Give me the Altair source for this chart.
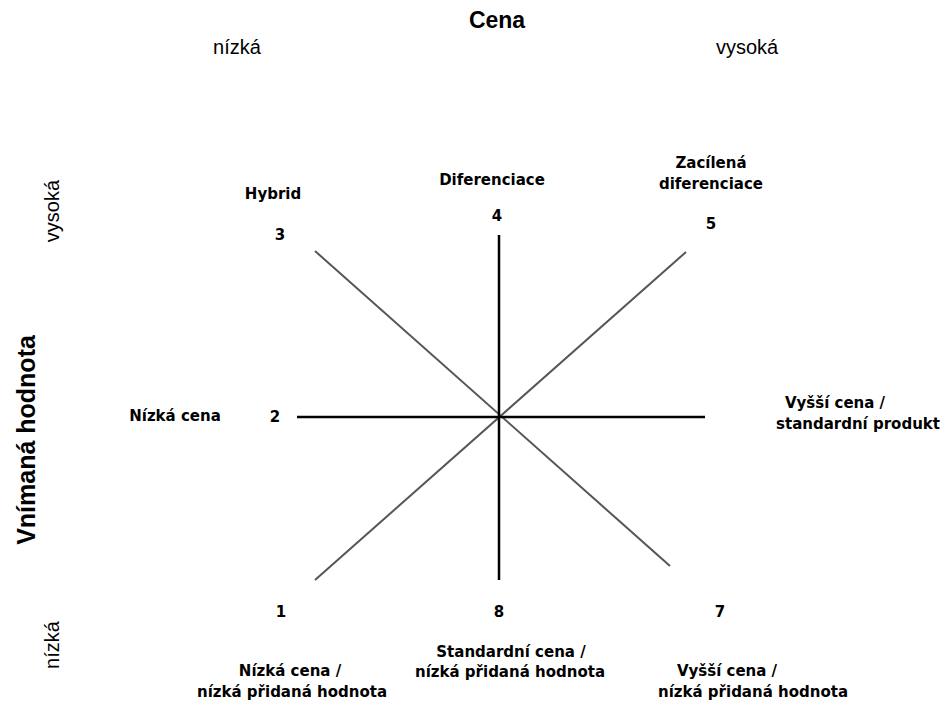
import altair as alt
import pandas as pd

# Strategy clock lines (endpoints, in image pixel coordinates)
line_x1 = [499, 297, 315, 686]
line_y1 = [235, 417, 251, 252]
line_x2 = [499, 705, 670, 315]
line_y2 = [580, 417, 566, 580]
line_kind = ["axis", "axis", "diag", "diag"]

# Clock position numbers
num_text = ["3", "4", "5", "2", "1", "8", "7"]
num_x = [280, 497, 711, 275, 281, 499, 720]
num_y = [235, 216, 224, 417, 612, 612, 612]

# Strategy labels (one row per text line)
lab_text = ["Hybrid", "Diferenciace", "Zacílená", "diferenciace",
            "Nízká cena", "Vyšší cena /", "standardní produkt",
            "Nízká cena /", "nízká přidaná hodnota",
            "Standardní cena /", "nízká přidaná hodnota",
            "Vyšší cena /", "nízká přidaná hodnota"]
lab_x = [273, 492, 711, 711, 175, 835, 858, 290, 292, 511, 510, 727, 753]
lab_y = [194, 180, 163, 184, 416, 403, 424, 671, 692, 652, 672, 671, 692]

# Axis captions
top_text = ["nízká", "vysoká"]
top_x = [237, 747]
top_y = [48, 48]
left_text = ["vysoká", "nízká"]
left_x = [53, 53]
left_y = [211, 645]

lines = pd.DataFrame({"x": line_x1, "y": line_y1, "x2": line_x2, "y2": line_y2, "kind": line_kind})
nums = pd.DataFrame({"t": num_text, "x": num_x, "y": num_y})
labs = pd.DataFrame({"t": lab_text, "x": lab_x, "y": lab_y})
tops = pd.DataFrame({"t": top_text, "x": top_x, "y": top_y})
lefts = pd.DataFrame({"t": left_text, "x": left_x, "y": left_y})
title_df = pd.DataFrame({"t": ["Cena"], "x": [497], "y": [21]})
ytitle_df = pd.DataFrame({"t": ["Vnímaná hodnota"], "x": [27], "y": [440]})

xs = alt.Scale(domain=[8, 942], nice=False, zero=False)
ys = alt.Scale(domain=[8, 704], nice=False, zero=False, reverse=True)
X = lambda f="x": alt.X(f"{f}:Q", scale=xs, axis=None)
Y = lambda f="y": alt.Y(f"{f}:Q", scale=ys, axis=None)

axis_lines = alt.Chart(lines).transform_filter(alt.datum.kind == "axis").mark_rule(
    color="#000000", strokeWidth=2.5
).encode(x=X(), y=Y(), x2="x2:Q", y2="y2:Q")

diag_lines = alt.Chart(lines).transform_filter(alt.datum.kind == "diag").mark_rule(
    color="#555555", strokeWidth=2
).encode(x=X(), y=Y(), x2="x2:Q", y2="y2:Q")

num_layer = alt.Chart(nums).mark_text(
    font="DejaVu Sans", fontWeight="bold", fontSize=15, color="#000000",
    align="center", baseline="middle"
).encode(x=X(), y=Y(), text="t:N")

lab_layer = alt.Chart(labs).mark_text(
    font="DejaVu Sans", fontWeight="bold", fontSize=15, color="#000000",
    align="center", baseline="middle"
).encode(x=X(), y=Y(), text="t:N")

top_layer = alt.Chart(tops).mark_text(
    font="Liberation Sans", fontSize=20, color="#000000",
    align="center", baseline="middle"
).encode(x=X(), y=Y(), text="t:N")

left_layer = alt.Chart(lefts).mark_text(
    font="Liberation Sans", fontSize=20, color="#000000",
    align="center", baseline="middle", angle=270
).encode(x=X(), y=Y(), text="t:N")

title_layer = alt.Chart(title_df).mark_text(
    font="Liberation Sans", fontWeight="bold", fontSize=23, color="#000000",
    align="center", baseline="middle"
).encode(x=X(), y=Y(), text="t:N")

ytitle_layer = alt.Chart(ytitle_df).mark_text(
    font="Liberation Sans", fontWeight="bold", fontSize=25, color="#000000",
    align="center", baseline="middle", angle=270
).encode(x=X(), y=Y(), text="t:N")

chart = alt.layer(
    diag_lines, axis_lines, num_layer, lab_layer, top_layer, left_layer,
    title_layer, ytitle_layer
).properties(
    width=934, height=696, autosize="none", padding=0, background="#ffffff"
).configure_view(stroke=None)

chart.save("out.html", embed_options={"renderer": "svg", "actions": False})
